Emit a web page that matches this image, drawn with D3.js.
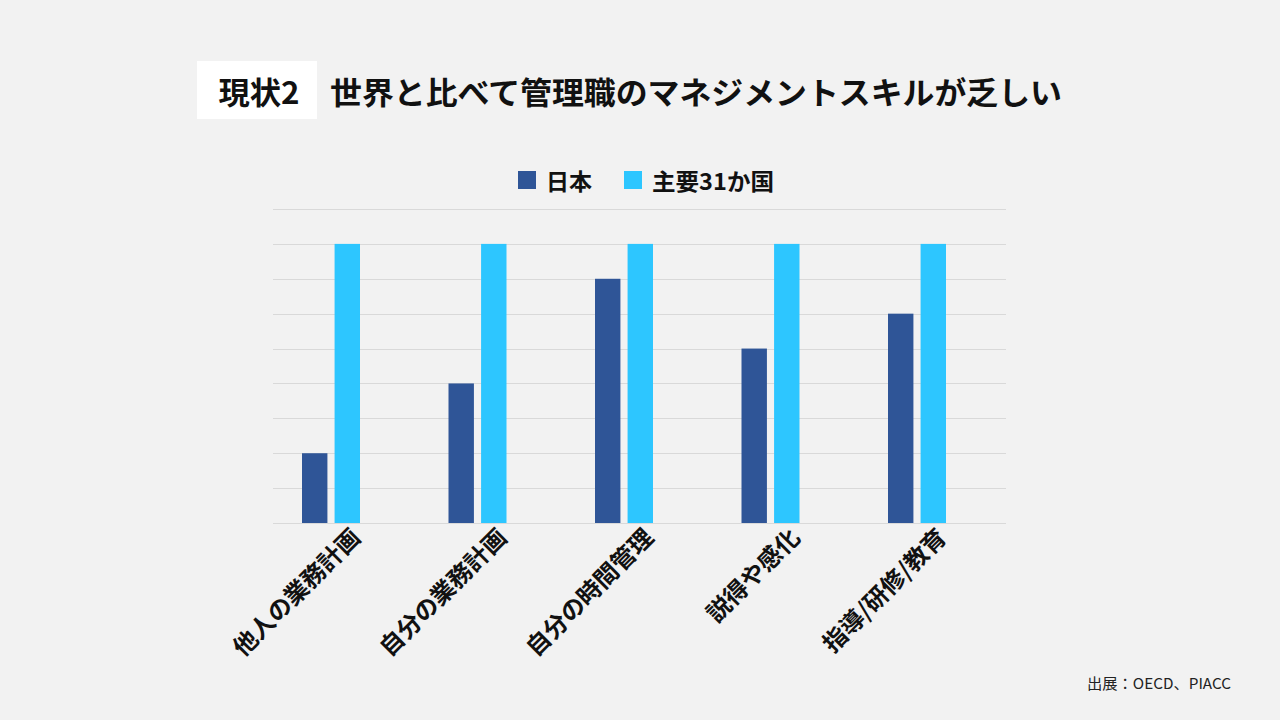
<!DOCTYPE html>
<html><head><meta charset="utf-8">
<script src="https://cdn.jsdelivr.net/npm/d3@7/dist/d3.min.js"></script>
<style>
html,body{margin:0;padding:0;background:#F2F2F2;}
svg{display:block;}
text{font-family:"Noto Sans CJK JP","Noto Sans",sans-serif;}
</style></head>
<body>
<svg id="c" width="1280" height="720"></svg>
<script>
const categories = ["他人の業務計画","自分の業務計画","自分の時間管理","説得や感化","指導/研修/教育"];
const seriesNames = ["日本","主要31か国"];
const japanValues = [2,4,7,5,6];
const worldValues = [8,8,8,8,8];
const yTicks = [0,1,2,3,4,5,6,7,8,9];
const colors = ["#2F5597","#2DC6FF"];

const svg = d3.select("#c");
svg.append("rect").attr("width",1280).attr("height",720).attr("fill","#F2F2F2");

// Title
svg.append("rect").attr("x",197).attr("y",61).attr("width",120).attr("height",58).attr("fill","#FFFFFF");
svg.append("text").attr("x",259).attr("y",90).attr("text-anchor","middle").attr("dominant-baseline","central")
  .attr("font-size",31).attr("font-weight","bold").attr("fill","#111")
  .attr("textLength",81).attr("lengthAdjust","spacingAndGlyphs").text("現状2");
svg.append("text").attr("x",330).attr("y",90).attr("dominant-baseline","central")
  .attr("font-size",31).attr("font-weight","bold").attr("fill","#111")
  .attr("textLength",732).attr("lengthAdjust","spacingAndGlyphs")
  .text("世界と比べて管理職のマネジメントスキルが乏しい");

// Legend
const legendX = [518,624];
const legendLen = [46,122];
seriesNames.forEach((s,i)=>{
  svg.append("rect").attr("x",legendX[i]).attr("y",171).attr("width",18).attr("height",18).attr("fill",colors[i]);
  svg.append("text").attr("x",legendX[i]+28).attr("y",180).attr("dominant-baseline","central")
    .attr("font-size",23).attr("font-weight","bold").attr("fill","#111")
    .attr("textLength",legendLen[i]).attr("lengthAdjust","spacingAndGlyphs").text(s);
});

const y = d3.scaleLinear().domain([0,9]).range([523,209]);
const x0 = d3.scaleBand().domain(categories).range([257.75,990.25]);
const x1 = d3.scaleBand().domain(seriesNames).range([-29,29]).paddingInner(0.22);

// gridlines
svg.append("g").selectAll("line").data(yTicks).join("line")
  .attr("x1",273).attr("x2",1006)
  .attr("y1",d=>Math.round(y(d))+0.5).attr("y2",d=>Math.round(y(d))+0.5)
  .attr("stroke","#D9D9D9").attr("stroke-width",1);

const data = categories.map((c,i)=>({c, vals:[japanValues[i],worldValues[i]]}));
const g = svg.append("g").selectAll("g").data(data).join("g")
  .attr("transform",d=>`translate(${x0(d.c)+x0.bandwidth()/2},0)`);
g.selectAll("rect").data(d=>d.vals.map((v,i)=>({s:seriesNames[i],v,i}))).join("rect")
  .attr("x",d=>x1(d.s)).attr("width",x1.bandwidth())
  .attr("y",d=>y(d.v)).attr("height",d=>y(0)-y(d.v))
  .attr("fill",d=>colors[d.i]);

// x labels
svg.append("g").selectAll("text").data(categories).join("text")
  .attr("transform",d=>`translate(${x0(d)+x0.bandwidth()/2+31},539) rotate(-45)`)
  .attr("text-anchor","end")
  .attr("font-size",24).attr("font-weight","bold").attr("fill","#111").text(d=>d);

// source
svg.append("text").attr("x",1231).attr("y",682).attr("text-anchor","end").attr("dominant-baseline","central")
  .attr("font-size",15).attr("fill","#222")
  .attr("textLength",144).attr("lengthAdjust","spacingAndGlyphs").text("出展：OECD、PIACC");
</script>
</body></html>
